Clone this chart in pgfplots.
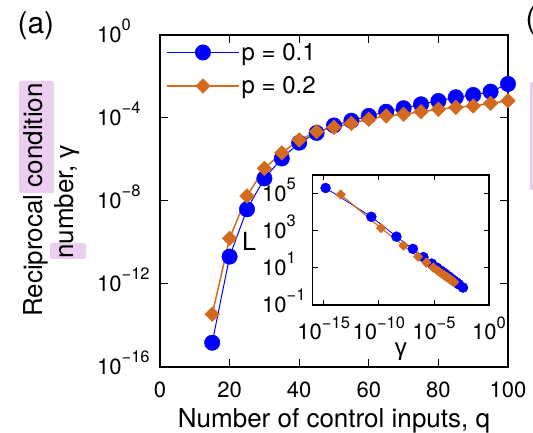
\documentclass[border=0pt]{standalone}
\usepackage{pgfplots}
\pgfplotsset{compat=1.18}
\usepackage{pgfplotstable}
\usepackage{fontspec}
\setmainfont{TeX Gyre Heros}
\newfontfamily\greekfont{Liberation Sans}

\definecolor{pblue}{RGB}{0,0,255}
\definecolor{porange}{RGB}{212,106,32}
\definecolor{hilite}{RGB}{236,206,240}

% power-of-ten tick label in the text font
\newcommand{\tenpow}[1]{10\raisebox{0.53em}{\fontsize{16.5}{16.5}\selectfont #1}}
\newcommand{\fs}[1]{\fontsize{#1}{#1}\selectfont}

% q: number of control inputs, gamma: reciprocal condition number,
% ratio: ordinate of the inset
\pgfplotstableread{
q    gamma     ratio
15   1.48e-15  2.00e5
20   2.09e-11  5.62e3
25   3.98e-9   479
30   1.23e-7   105
35   1.12e-6   38.0
40   6.46e-6   17.0
45   1.91e-5   10.2
50   4.37e-5   7.08
55   7.41e-5   5.50
60   1.26e-4   4.37
65   2.00e-4   3.55
70   2.95e-4   2.95
75   4.57e-4   2.40
80   6.61e-4   2.04
85   1.00e-3   1.70
90   1.29e-3   1.51
95   1.86e-3   1.29
100  4.37e-3   0.87
}\pone

\pgfplotstableread{
q    gamma     ratio
15   3.47e-14  8.91e4
20   1.58e-10  1380
25   1.74e-8   158
30   3.72e-7   39.8
35   2.09e-6   19.1
40   8.71e-6   10.5
45   2.19e-5   7.08
50   3.55e-5   5.75
55   5.50e-5   4.79
60   8.71e-5   3.98
65   1.26e-4   3.39
70   1.51e-4   3.16
75   2.00e-4   2.82
80   2.63e-4   2.51
85   3.24e-4   2.29
90   3.80e-4   2.14
95   5.13e-4   1.91
100  6.76e-4   1.70
}\ptwo

\pgfplotsset{
  /pgf/number format/assume math mode=true,
  legend image code/.code={
    \draw[mark repeat=2,mark phase=2,#1]
      plot coordinates {(0pt,0pt) (36pt,0pt) (72pt,0pt)};
  },
}

\begin{document}
\begin{tikzpicture}
\path[use as bounding box] (0,0) rectangle (533pt,433pt);

% highlighted words of the ordinate label
\fill[hilite, rounded corners=2pt] (19pt,240pt) rectangle (54pt,352pt);
\fill[hilite, rounded corners=2pt] (50pt,174pt) rectangle (86pt,190pt);
\fill[hilite] (530pt,243pt) rectangle (534pt,351pt);

% ordinate label, one node per line, each starting at its lower end
\node[rotate=90, anchor=west, inner sep=0pt, font=\fs{26}] at (36pt,116pt) {Reciprocal condition};
\node[rotate=90, anchor=west, inner sep=0pt, font=\fs{26}] at (67pt,174pt) {number, {\greekfont γ}};
\node[anchor=west, font=\fs{30}] at (14pt,407pt) {(a)};
\node[anchor=west, font=\fs{30}] at (522pt,412pt) {(};

\begin{axis}[
  at={(160pt,66pt)}, anchor=south west,
  scale only axis, width=348pt, height=332pt,
  xmin=0, xmax=100, ymin=1e-16, ymax=1,
  ymode=log, clip=false,
  xtick={0,20,40,60,80,100},
  ytick={1e-16,1e-12,1e-8,1e-4,1},
  yticklabels={\tenpow{−16},\tenpow{−12},\tenpow{−8},\tenpow{−4},\tenpow{0}},
  yminorticks=false,
  tick align=inside,
  major tick length=8pt,
  axis line style={line width=2pt},
  every tick/.style={black, line width=1pt},
  xticklabel style={font=\fs{22}, anchor=base, inner sep=0pt, yshift=-30pt},
  yticklabel style={font=\fs{22}, anchor=base west, inner sep=0pt, xshift=-63pt, yshift=-7.5pt},
  xlabel={Number of control inputs, q},
  xlabel style={font=\fs{26}, at={(rel axis cs:0.5,0)}, anchor=base, inner sep=0pt, yshift=-60pt},
  legend style={at={(rel axis cs:0,1)}, anchor=north west, draw=none, fill=none,
    font=\fs{24}, xshift=3pt, yshift=-4pt, row sep=11pt,
    nodes={inner sep=2pt}},
  legend cell align=left,
]
\addplot[pblue, line width=1pt, mark=*, mark size=7.7pt,
  mark options={fill=pblue, draw=pblue, line width=0.5pt}]
  table[x=q, y=gamma] {\pone};
\addlegendentry{p = 0.1}
\addplot[porange, line width=1.5pt, mark=diamond*, mark size=7.3pt,
  mark options={fill=porange, draw=porange, line width=0.5pt, xscale=1.33}]
  table[x=q, y=gamma] {\ptwo};
\addlegendentry{p = 0.2}
\end{axis}

\node[font=\fs{25}] at (249pt,192pt) {L};

\begin{axis}[
  at={(312.7pt,128pt)}, anchor=south west,
  scale only axis, width=176.3pt, height=130pt,
  xmode=log, ymode=log,
  xmin=1e-16, xmax=1, ymin=0.1, ymax=1e6,
  xtick={1e-15,1e-10,1e-5,1},
  xticklabels={\tenpow{−15},\tenpow{−10},\tenpow{−5},\tenpow{0}},
  ytick={0.1,10,1000,1e5},
  yticklabels={\tenpow{−1},\tenpow{1},\tenpow{3},\tenpow{5}},
  xminorticks=false, yminorticks=false,
  tick align=inside,
  major tick length=5pt,
  axis line style={line width=1.5pt},
  every tick/.style={black, line width=0.8pt},
  axis background/.style={fill=white},
  xticklabel style={font=\fs{22}, anchor=base, inner sep=0pt, yshift=-35pt},
  yticklabel style={font=\fs{22}, anchor=base west, inner sep=0pt, xshift=-50.7pt, yshift=-7.5pt},
  xlabel={\greekfont γ},
  xlabel style={font=\fs{24}, at={(rel axis cs:0.5,0)}, anchor=center, inner sep=0pt, yshift=-47pt},
]
\addplot[pblue, line width=0.8pt, mark=*, mark size=5pt,
  mark options={fill=pblue, draw=pblue, line width=0.4pt}]
  table[x=gamma, y=ratio] {\pone};
\addplot[porange, line width=1.2pt, mark=diamond*, mark size=4.8pt,
  mark options={fill=porange, draw=porange, line width=0.4pt, xscale=1.33}]
  table[x=gamma, y=ratio] {\ptwo};
\end{axis}
\end{tikzpicture}
\end{document}
